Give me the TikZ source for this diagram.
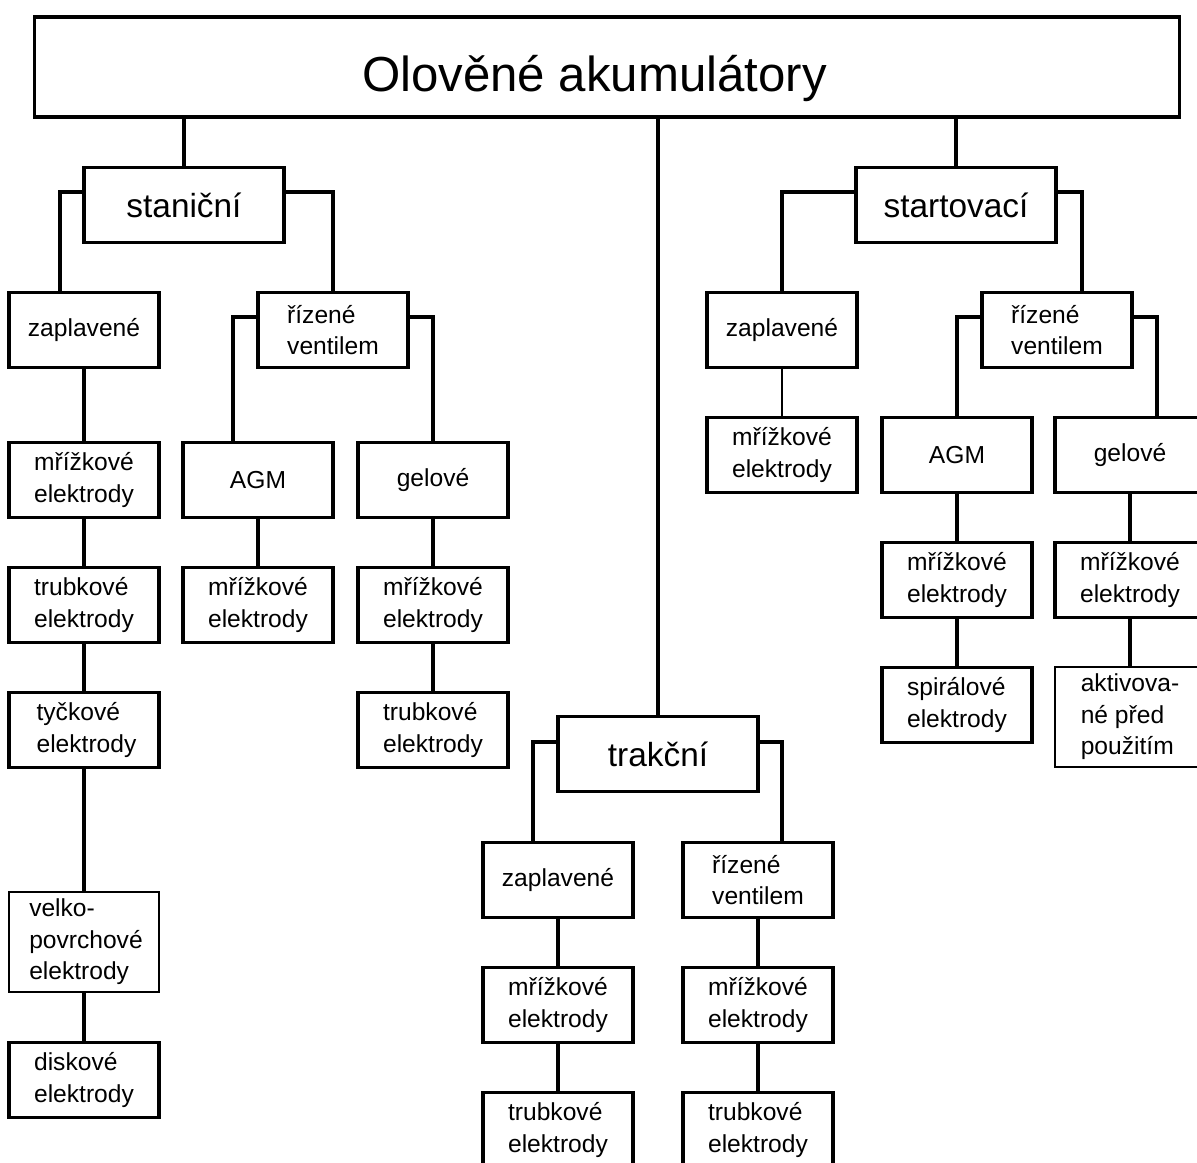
\documentclass[tikz,border=0pt]{standalone}
\usepackage{fontspec}
\setmainfont{Liberation Sans}
\usepackage{tikz}
\usetikzlibrary{
  positioning,
  calc
}
\tikzset{
  box/.style={
    draw,
    line width=1.8pt,
    align=left,
    inner sep=0pt,
    minimum width=3cm,
    minimum height=1.5cm,
    font=\fontsize{14}{18}\selectfont
  },
  thinbox/.style={
    box,
    line width=1.1pt
  },
  group/.style={
    box,
    minimum width=4cm,
    font=\fontsize{19}{23}\selectfont
  },
  root/.style={
    draw,
    line width=1.8pt,
    inner sep=0pt,
    minimum width=22.9cm,
    minimum height=2cm,
    font=\fontsize{28}{32}\selectfont
  },
  link/.style={
    line width=1.8pt
  },
  thinlink/.style={
    line width=0.7pt
  }
}

\begin{document}
\begin{tikzpicture}[x=0.02cm, y=-0.02cm]

  \useasboundingbox (0,0) rectangle (1197,1163);

  % main node
  \node[root] (lead) at (607,67) {\hspace*{-0.5cm}\raisebox{-0.22cm}[\height][\depth]{Olověné akumulátory}};

  % groups
  \node[group] (stat) at (184,205) {staniční};
  \node[group] (start) at (956,205) {startovací};
  \node[group] (trak) at (658,754) {trakční};

  % stationary batteries
  \node[box] (sZap) at (84,330) {zaplavené};
  \node[box] (sZapGrid) at (84,480) {mřížkové\\elektrody};
  \node[box] (sZapTube) at (84,605) {trubkové\\elektrody};
  \node[box] (sZapRod) at (84,730) {\hspace*{0.1cm}tyčkové\\\hspace*{0.1cm}elektrody};
  \node[
    thinbox,
    minimum height=2cm
  ] (sZapLarge) at (84,942) {\hspace*{0.08cm}velko-\\\hspace*{0.08cm}povrchové\\\hspace*{0.08cm}elektrody};
  \node[box] (sZapDisc) at (84,1080) {diskové\\elektrody};

  \node[box] (sValve) at (333,330) {řízené\\ventilem};
  \node[box] (sAgm) at (258,480) {AGM};
  \node[box] (sAgmGrid) at (258,605) {mřížkové\\elektrody};
  \node[box] (sGel) at (433,480) {gelové};
  \node[box] (sGelGrid) at (433,605) {mřížkové\\elektrody};
  \node[box] (sGelTube) at (433,730) {trubkové\\elektrody};

  % traction batteries
  \node[box] (tZap) at (558,880) {zaplavené};
  \node[box] (tZapGrid) at (558,1005) {mřížkové\\elektrody};
  \node[box] (tZapTube) at (558,1130) {trubkové\\elektrody};
  \node[box] (tValve) at (758,880) {řízené\\ventilem};
  \node[box] (tValveGrid) at (758,1005) {mřížkové\\elektrody};
  \node[box] (tValveTube) at (758,1130) {trubkové\\elektrody};

  % starter batteries
  \node[box] (rZap) at (782,330) {zaplavené};
  \node[box] (rZapGrid) at (782,455) {mřížkové\\elektrody};
  \node[box] (rValve) at (1057,330) {řízené\\ventilem};
  \node[box] (rAgm) at (957,455) {AGM};
  \node[box] (rAgmGrid) at (957,580) {mřížkové\\elektrody};
  \node[box] (rAgmSpiral) at (957,705) {spirálové\\elektrody};
  \node[box] (rGel) at (1130,455) {gelové};
  \node[box] (rGelGrid) at (1130,580) {mřížkové\\elektrody};
  \node[
    thinbox,
    minimum height=2cm
  ] (rGelAct) at (1130,717) {aktivova-\\né před\\použitím};

  % links from the main node
  \draw[link] (stat |- lead.south) -- (stat);
  \draw[link] (trak |- lead.south) -- (trak);
  \draw[link] (start |- lead.south) -- (start);

  % branches
  \draw[link] ([yshift=0.26cm]stat.west) -| ([xshift=-0.48cm]sZap.north);
  \draw[link] ([yshift=0.26cm]stat.east) -| (sValve);
  \draw[link] ([yshift=0.26cm]sValve.west) -| ([xshift=-0.5cm]sAgm.north);
  \draw[link] ([yshift=0.26cm]sValve.east) -| (sGel);
  \draw[link] ([yshift=0.24cm]trak.west) -| ([xshift=-0.5cm]tZap.north);
  \draw[link] ([yshift=0.24cm]trak.east) -| ([xshift=0.48cm]tValve.north);
  \draw[link] ([yshift=0.26cm]start.west) -| (rZap);
  \draw[link] ([yshift=0.26cm]start.east) -| ([xshift=0.5cm]rValve.north);
  \draw[link] ([yshift=0.26cm]rValve.west) -| (rAgm);
  \draw[link] ([yshift=0.26cm]rValve.east) -| ([xshift=0.54cm]rGel.north);

  % chains
  \draw[link] (sZap) -- (sZapGrid) -- (sZapTube) -- (sZapRod) -- (sZapLarge) -- (sZapDisc);
  \draw[link] (sAgm) -- (sAgmGrid);
  \draw[link] (sGel) -- (sGelGrid) -- (sGelTube);
  \draw[link] (tZap) -- (tZapGrid) -- (tZapTube);
  \draw[link] (tValve) -- (tValveGrid) -- (tValveTube);
  \draw[thinlink] (rZap) -- (rZapGrid);
  \draw[link] (rAgm) -- (rAgmGrid) -- (rAgmSpiral);
  \draw[link] (rGel) -- (rGelGrid) -- (rGelAct);

\end{tikzpicture}
\end{document}
